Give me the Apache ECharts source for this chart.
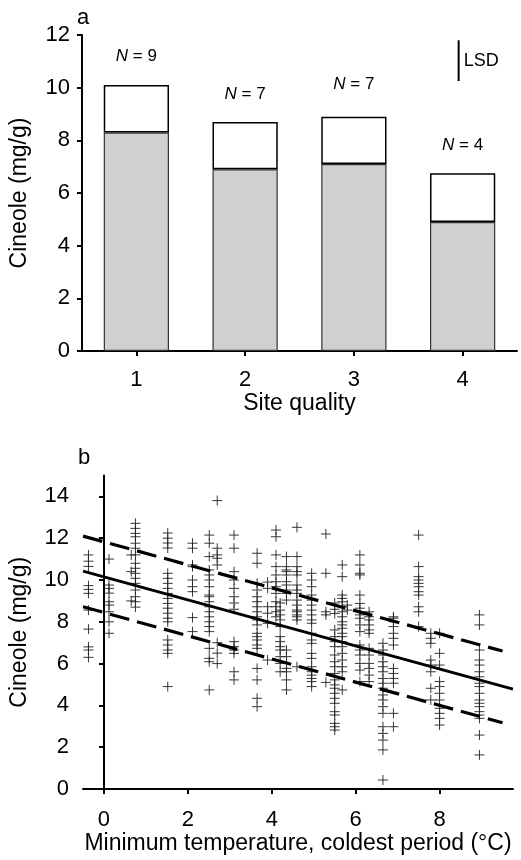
<!DOCTYPE html>
<html>
<head>
<meta charset="utf-8">
<script src="https://cdn.jsdelivr.net/npm/echarts@6/dist/echarts.min.js"></script>
<style>html,body{margin:0;padding:0;background:#fff}#c{width:521px;height:860px}</style>
</head>
<body>
<div id="c"></div>
<script>
// ---------- DATA: panel a ----------
const categories = ['1', '2', '3', '4'];
const shadedValues = [8.3, 6.9, 7.1, 4.9];
const totalValues = [10.1, 8.7, 8.9, 6.75];
const sampleN = [9, 7, 7, 4];
const lsdValue = 1.55;
const lsdTop = 11.8;
const yTicksA = [0, 2, 4, 6, 8, 10, 12];

// ---------- DATA: panel b ----------
const xTicksB = [0, 2, 4, 6, 8];
const yTicksB = [0, 2, 4, 6, 8, 10, 12, 14];
// scatter columns: x (min temp) and cineole values
const colX = [-0.37, 0.12, 0.65, 0.75, 1.52, 2.11, 2.51, 2.7, 3.1, 3.65, 3.9, 4.1, 4.2, 4.35, 4.6, 4.95, 5.29, 5.5, 5.68, 5.8, 6.1, 6.32, 6.65, 6.9, 7.5, 7.79, 8.0, 8.95];
const colY = [
  [11.2, 10.9, 10.65, 9.73, 9.55, 9.36, 8.56, 7.65, 6.8, 6.65, 6.3],
  [11.0, 9.76, 9.6, 9.37, 8.96, 8.8, 8.48, 8.0, 7.45],
  [11.2, 10.4, 9.0],
  [12.71, 12.47, 12.23, 12.07, 11.76, 11.52, 11.2, 10.8, 10.56, 10.32, 10.08, 9.84, 9.52, 9.2, 8.96, 8.7],
  [12.25, 12.0, 11.77, 11.53, 10.32, 10.08, 9.84, 9.6, 9.36, 9.12, 8.88, 8.65, 8.41, 8.17, 8.0, 7.13, 6.89, 6.65, 6.49, 4.9],
  [11.76, 11.52, 10.72, 10.64, 10.0, 9.68, 9.44, 8.2, 7.53],
  [12.15, 11.76, 11.12, 10.48, 10.24, 10.0, 9.68, 9.28, 9.2, 8.96, 8.72, 8.48, 8.24, 8.0, 7.77, 7.53, 6.73, 6.25, 6.09, 4.74],
  [13.8, 11.52, 11.2, 11.04, 10.72, 7.0, 6.5, 6.0],
  [12.15, 11.52, 10.4, 10.0, 9.6, 9.2, 8.9, 8.6, 7.05, 6.81, 6.65, 6.49, 5.61, 5.22],
  [11.28, 10.8, 9.84, 9.52, 9.2, 8.96, 8.72, 8.48, 8.24, 8.09, 7.85, 7.45, 7.29, 7.13, 6.89, 6.73, 5.77, 5.22, 4.34, 3.94],
  [9.9, 9.6, 8.72, 8.41, 7.93, 6.17],
  [12.39, 12.07, 11.2, 10.64, 10.24, 9.92, 9.68, 9.36, 8.96, 8.72, 8.48, 8.24],
  [8.9, 8.56, 8.33, 8.09, 7.77, 7.29, 7.05, 6.81, 6.65, 6.33, 6.01, 5.61],
  [11.12, 10.64, 10.48, 10.4, 10.24, 9.92, 9.76, 9.52, 9.36, 9.04, 6.65, 6.33, 5.77, 5.61, 5.22, 4.74],
  [12.52, 11.12, 10.64, 10.4, 10.24, 9.76, 9.52, 9.36, 9.04, 8.8, 8.48, 8.24, 8.56, 8.33, 8.09, 5.85],
  [10.32, 10.0, 9.68, 9.28, 9.04, 8.8, 8.56, 8.33, 8.09, 7.93, 7.45, 7.13, 6.97, 6.49, 6.25, 5.85, 5.61, 5.45, 5.29, 5.14, 4.9],
  [12.2, 10.32, 8.48, 8.33, 5.1],
  [8.9, 8.6, 8.4, 7.61, 7.29, 7.05, 6.81, 6.41, 6.09, 5.85, 5.53, 5.22, 4.98, 4.82, 4.58, 4.34, 4.1, 3.7, 3.54, 3.14, 2.98, 2.82],
  [10.72, 10.16, 9.28, 9.12, 8.96, 8.72, 8.48, 8.24, 8.0, 7.85, 7.69, 7.45, 7.29, 7.05, 6.81, 6.49, 6.17, 5.85, 5.61, 4.74],
  [8.8, 8.56],
  [11.2, 10.72, 10.32, 10.24, 9.28, 8.88, 8.65, 8.33, 8.17, 7.85, 7.53, 6.89, 6.65, 6.41, 6.01, 5.69, 5.14],
  [8.48, 8.24, 8.09, 7.85, 7.61, 7.45, 6.73, 6.41, 6.01, 5.77, 5.45, 5.14],
  [6.97, 6.65, 6.41, 6.09, 5.85, 5.61, 5.29, 5.06, 4.82, 4.5, 4.26, 3.94, 3.62, 2.98, 2.66, 2.34, 1.87, 0.43],
  [8.24, 8.17, 8.0, 7.77, 7.45, 7.21, 6.89, 5.77, 5.53, 5.29, 5.06, 3.62, 2.98],
  [12.15, 10.64, 10.16, 10.0, 9.84, 9.68, 9.44, 9.28, 8.72, 8.48, 7.77],
  [7.45, 7.21, 6.97, 6.17, 5.93, 5.61, 4.82, 4.26],
  [7.45, 6.49, 5.93, 5.14, 4.9, 4.58, 4.26, 3.86, 3.62, 3.38, 3.06],
  [8.33, 7.85, 6.65, 6.17, 5.93, 5.61, 5.37, 5.06, 4.9, 4.58, 4.26, 4.1, 3.94, 3.7, 3.54, 3.38, 2.58, 1.63]
];
// regression line and bounds (end points)
const fitLine = [[-0.5, 10.42], [9.75, 4.78]];
const upperBound = [[-0.5, 12.1], [9.5, 6.6]];
const lowerBound = [[-0.5, 8.72], [9.5, 3.17]];

// ---------- build ----------
const scatterData = [];
colX.forEach((x, i) => colY[i].forEach(y => scatterData.push([x, y])));
const upperPart = totalValues.map((t, i) => +(t - shadedValues[i]).toFixed(3));
const labelGap = [20, 19, 24, 19];

const FONT = 'Liberation Sans, Arial, sans-serif';
const axisLine = { show: true, lineStyle: { color: '#000', width: 2 } };
const tick = { show: true, inside: false, length: 5, lineStyle: { color: '#000', width: 2 } };
const lbl = { color: '#000', fontSize: 22, fontFamily: FONT };
const nameStyle = { color: '#000', fontSize: 23, fontFamily: FONT };

const chart = echarts.init(document.getElementById('c'), null, { renderer: 'canvas' });
chart.setOption({
  backgroundColor: '#fff',
  animation: false,
  grid: [
    { left: 82, top: 35, width: 435, height: 316, outerBoundsMode: 'none', containLabel: false },
    { left: 83, top: 475.5, width: 430, height: 313.5, outerBoundsMode: 'none', containLabel: false }
  ],
  xAxis: [
    {
      gridIndex: 0, type: 'category', data: categories, boundaryGap: true,
      axisLine: axisLine, axisTick: Object.assign({ alignWithLabel: true }, tick),
      axisLabel: Object.assign({ margin: 18 }, lbl),
      name: 'Site quality', nameLocation: 'middle', nameGap: 41,
      nameTextStyle: nameStyle
    },
    {
      gridIndex: 1, type: 'value', min: -0.5, max: 9.75,
      axisLine: axisLine,
      axisTick: Object.assign({ customValues: xTicksB }, tick),
      axisLabel: Object.assign({ margin: 20, customValues: xTicksB }, lbl),
      splitLine: { show: false },
      name: 'Minimum temperature, coldest period (°C)', nameLocation: 'middle', nameGap: 42,
      nameTextStyle: nameStyle
    }
  ],
  yAxis: [
    {
      gridIndex: 0, type: 'value', min: 0, max: 12, interval: 2,
      axisLine: axisLine, axisTick: tick,
      axisLabel: Object.assign({ margin: 12 }, lbl),
      splitLine: { show: false },
      name: 'Cineole (mg/g)', nameLocation: 'middle', nameGap: 51, nameRotate: 90,
      nameTextStyle: nameStyle
    },
    {
      gridIndex: 1, type: 'value', min: 0, max: 15,
      axisLine: axisLine,
      axisTick: Object.assign({ customValues: yTicksB }, tick),
      axisLabel: Object.assign({ margin: 14, customValues: yTicksB }, lbl),
      splitLine: { show: false },
      name: 'Cineole (mg/g)', nameLocation: 'middle', nameGap: 52, nameRotate: 90,
      nameTextStyle: nameStyle
    }
  ],
  graphic: [
    { type: 'text', left: 77, top: 7, style: { text: 'a', fontSize: 22, fontFamily: FONT, fill: '#000' } },
    { type: 'text', left: 78, top: 447, style: { text: 'b', fontSize: 22, fontFamily: FONT, fill: '#000' } }
  ],
  series: [
    {
      type: 'bar', xAxisIndex: 0, yAxisIndex: 0, stack: 's', barWidth: '60%',
      data: shadedValues,
      itemStyle: { color: '#d0d0d0', borderColor: '#333', borderWidth: 1.2 },
      silent: true
    },
    {
      type: 'bar', xAxisIndex: 0, yAxisIndex: 0, stack: 's', barWidth: '60%',
      data: upperPart.map((v, i) => ({
        value: v,
        label: {
          show: true, position: 'top', distance: labelGap[i],
          formatter: '{n|N} = ' + sampleN[i],
          color: '#000', fontSize: 17, fontFamily: FONT,
          rich: { n: { fontStyle: 'italic', fontSize: 17, fontFamily: FONT, color: '#000' } }
        }
      })),
      itemStyle: { color: '#fff', borderColor: '#000', borderWidth: 1.5 },
      silent: true
    },
    {
      type: 'custom', xAxisIndex: 0, yAxisIndex: 0,
      data: [[3, lsdTop, lsdValue]],
      renderItem: function (params, api) {
        const top = api.coord([api.value(0), api.value(1)]);
        const bot = api.coord([api.value(0), api.value(1) - api.value(2)]);
        const x = top[0] - 4;
        return {
          type: 'group', children: [
            { type: 'line', shape: { x1: x, y1: top[1], x2: x, y2: bot[1] }, style: { stroke: '#000', lineWidth: 2 } },
            { type: 'text', style: { x: x + 5, y: (top[1] + bot[1]) / 2, text: 'LSD', fontSize: 18, fontFamily: FONT, fill: '#000', verticalAlign: 'middle', align: 'left' } }
          ]
        };
      },
      silent: true
    },
    {
      type: 'scatter', xAxisIndex: 1, yAxisIndex: 1,
      data: scatterData,
      symbol: 'path://M0,5L10,5M5,0L5,10', symbolSize: 10,
      itemStyle: { color: 'rgba(0,0,0,0)', borderColor: '#222', borderWidth: 1, opacity: 0.9 },
      silent: true
    },
    {
      type: 'line', xAxisIndex: 1, yAxisIndex: 1, data: fitLine, symbol: 'none',
      lineStyle: { color: '#000', width: 2.8, type: 'solid' }, silent: true
    },
    {
      type: 'line', xAxisIndex: 1, yAxisIndex: 1, data: upperBound, symbol: 'none',
      lineStyle: { color: '#000', width: 3.2, type: [20, 8] }, silent: true
    },
    {
      type: 'line', xAxisIndex: 1, yAxisIndex: 1, data: lowerBound, symbol: 'none',
      lineStyle: { color: '#000', width: 3.2, type: [20, 8] }, silent: true
    }
  ]
});
</script>
</body>
</html>
